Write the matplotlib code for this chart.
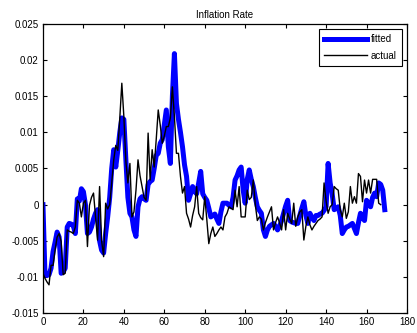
import numpy as np
import matplotlib
matplotlib.use('Agg')
import matplotlib.pyplot as plt

plt.rcParams['font.family'] = ['Liberation Sans', 'DejaVu Sans']

# fitted inflation, one value per period starting at t = 0
fitted = [
    0.0000, -0.0097, -0.0098, -0.0097, -0.0088, -0.0065, -0.0052, -0.0038, -0.0045, -0.0095,
    -0.0093, -0.0088, -0.0031, -0.0026, -0.0027, -0.0029, -0.0040, 0.0008, 0.0005, 0.0022,
    0.0018, 0.0000, -0.0040, -0.0038, -0.0031, -0.0020, -0.0012, -0.0007, -0.0050, -0.0063,
    -0.0067, -0.0040, -0.0017, 0.0010, 0.0050, 0.0076, 0.0052, 0.0075, 0.0100, 0.0120,
    0.0118, 0.0062, 0.0010, -0.0012, -0.0017, -0.0035, -0.0044, -0.0003, 0.0008, 0.0011,
    0.0008, 0.0006, 0.0028, 0.0032, 0.0034, 0.0050, 0.0068, 0.0071, 0.0085, 0.0090,
    0.0110, 0.0131, 0.0080, 0.0057, 0.0150, 0.0209, 0.0140, 0.0118, 0.0100, 0.0080,
    0.0055, 0.0039, 0.0006, 0.0015, 0.0025, 0.0018, 0.0015, 0.0030, 0.0046, 0.0015,
    0.0010, 0.0006, -0.0005, -0.0017, -0.0015, -0.0013, -0.0020, -0.0026, -0.0010, 0.0002,
    0.0002, 0.0002, -0.0001, -0.0003, 0.0010, 0.0034, 0.0040, 0.0048, 0.0052, 0.0020,
    0.0002, 0.0035, 0.0048, 0.0035, 0.0025, 0.0010, -0.0003, -0.0008, -0.0012, -0.0035,
    -0.0044, -0.0035, -0.0030, -0.0028, -0.0026, -0.0030, -0.0035, -0.0030, -0.0022, -0.0012,
    -0.0002, 0.0006, -0.0022, -0.0024, -0.0025, -0.0026, -0.0026, -0.0015, -0.0005, 0.0004,
    -0.0015, -0.0026, -0.0012, -0.0018, -0.0022, -0.0015, -0.0015, -0.0013, -0.0012, -0.0008,
    -0.0003, 0.0057, 0.0030, 0.0015, -0.0007, -0.0005, -0.0003, -0.0015, -0.0040, -0.0035,
    -0.0031, -0.0030, -0.0028, -0.0026, -0.0033, -0.0040, -0.0025, -0.0012, -0.0018, -0.0022,
    0.0006, 0.0002, -0.0003, 0.0010, 0.0016, 0.0011, 0.0030, 0.0028, 0.0020, -0.0007,
]

# observed inflation
actual = [
    -0.0095, -0.0102, -0.0107, -0.0111, -0.0084, -0.0084, -0.0063, -0.0045, -0.0040, -0.0051,
    -0.0097, -0.0095, -0.0035, -0.0037, -0.0038, -0.0040, -0.0031, 0.0006, 0.0002, -0.0017,
    0.0002, 0.0006, -0.0058, -0.0001, 0.0010, 0.0016, -0.0017, -0.0049, 0.0025, -0.0050,
    -0.0072, 0.0002, -0.0006, 0.0000, 0.0030, 0.0062, 0.0082, 0.0075, 0.0120, 0.0168,
    0.0122, 0.0060, 0.0030, 0.0057, -0.0017, -0.0010, 0.0020, 0.0062, 0.0040, 0.0025,
    0.0010, 0.0006, 0.0099, 0.0034, 0.0076, 0.0052, 0.0090, 0.0131, 0.0110, 0.0085,
    0.0095, 0.0108, 0.0108, 0.0120, 0.0163, 0.0122, 0.0071, 0.0071, 0.0039, 0.0016,
    0.0025, -0.0012, -0.0020, -0.0031, -0.0015, -0.0003, 0.0025, -0.0012, -0.0018, -0.0021,
    0.0011, -0.0020, -0.0054, -0.0040, -0.0031, -0.0044, -0.0040, -0.0035, -0.0031, -0.0035,
    -0.0017, -0.0012, -0.0003, -0.0005, -0.0007, 0.0020, -0.0003, 0.0025, -0.0017, -0.0017,
    -0.0017, 0.0020, 0.0007, 0.0010, 0.0034, 0.0000, -0.0022, -0.0017, -0.0020, -0.0035,
    -0.0025, -0.0017, -0.0010, -0.0003, -0.0035, -0.0025, -0.0017, -0.0025, -0.0035, -0.0007,
    -0.0035, -0.0012, -0.0020, -0.0026, 0.0002, -0.0030, -0.0017, -0.0010, -0.0007, -0.0049,
    -0.0030, -0.0017, -0.0028, -0.0035, -0.0030, -0.0026, -0.0022, -0.0020, -0.0017, 0.0030,
    0.0005, -0.0012, -0.0003, 0.0000, 0.0025, 0.0022, 0.0020, -0.0007, -0.0017, 0.0002,
    -0.0019, -0.0010, 0.0025, 0.0002, 0.0011, 0.0002, 0.0043, 0.0039, 0.0004, 0.0034,
    0.0016, 0.0034, 0.0016, 0.0035, 0.0035, 0.0035, 0.0002, 0.0000,
]

xticks = [0, 20, 40, 60, 80, 100, 120, 140, 160, 180]
yticks = [-0.015, -0.01, -0.005, 0, 0.005, 0.01, 0.015, 0.02, 0.025]
ylabels = ['-0.015', '-0.01', '-0.005', '0', '0.005', '0.01', '0.015', '0.02', '0.025']

fig = plt.figure(figsize=(4.17, 3.33), dpi=100)
ax = fig.add_axes([0.103, 0.060, 0.873, 0.868])

ax.plot(np.arange(len(fitted)), fitted, color='#0000ff', lw=3.6, label='fitted',
        solid_joinstyle='round')
ax.plot(np.arange(len(actual)), actual, color='black', lw=1.0, label='actual')

ax.set_xlim(0, 180)
ax.set_ylim(-0.015, 0.025)
ax.set_xticks(xticks)
ax.set_yticks(yticks)
ax.set_yticklabels(ylabels)
ax.tick_params(direction='in', top=True, right=True, labelsize=7, length=3, width=0.8, pad=3)
for s in ax.spines.values():
    s.set_linewidth(0.9)
ax.set_title('Inflation Rate', fontsize=7, pad=4)

leg = ax.legend(loc='upper right', fontsize=7, fancybox=False, framealpha=1,
                edgecolor='black', handlelength=4.4, borderaxespad=0.5, borderpad=0.55,
                labelspacing=0.65, handletextpad=0.4)
leg.get_frame().set_linewidth(0.8)

fig.savefig('out.png', dpi=100)
